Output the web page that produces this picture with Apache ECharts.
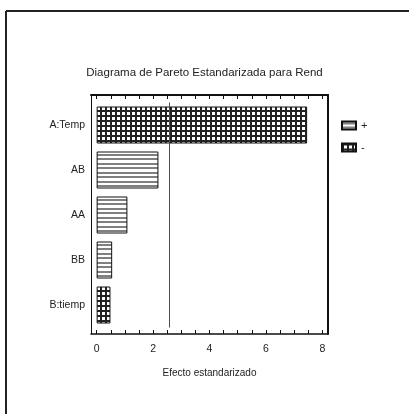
<!DOCTYPE html>
<html>
<head>
<meta charset="utf-8">
<script src="https://cdn.jsdelivr.net/npm/echarts@6/dist/echarts.min.js"></script>
<style>html,body{margin:0;padding:0;background:#fff;}#c{width:409px;height:414px;}</style>
</head>
<body>
<div id="c"></div>
<script>
// Data
var categories = ['A:Temp', 'AB', 'AA', 'BB', 'B:tiemp'];
var effects = [7.46, 2.19, 1.09, 0.55, 0.49];
var signs = ['-', '+', '+', '+', '-'];
var criticalValue = 2.57;
var xTickLabels = [0, 2, 4, 6, 8];
var xMinorTicks = [0, 0.5, 1, 1.5, 2, 2.5, 3, 3.5, 4, 4.5, 5, 5.5, 6, 6.5, 7, 7.5, 8];

var FONT = "'Liberation Sans', Arial, sans-serif";

function stripePattern() {
  var c = document.createElement('canvas');
  c.width = 4; c.height = 9;
  var g = c.getContext('2d');
  g.fillStyle = '#fff'; g.fillRect(0, 0, 4, 9);
  g.fillStyle = '#808080';
  g.fillRect(0, 1, 4, 2);
  g.fillRect(0, 5, 4, 2);
  return c;
}
function gridPattern() {
  var c = document.createElement('canvas');
  c.width = 5; c.height = 5;
  var g = c.getContext('2d');
  g.fillStyle = '#fff'; g.fillRect(0, 0, 5, 5);
  g.fillStyle = '#222';
  g.fillRect(0, 0, 2, 5);
  g.fillRect(0, 0, 5, 2);
  return c;
}

var plusData = effects.map(function (v, i) { return signs[i] === '+' ? v : '-'; });
var minusData = effects.map(function (v, i) { return signs[i] === '-' ? v : '-'; });

var chart = echarts.init(document.getElementById('c'), null, { renderer: 'canvas' });
var xMin = -0.2, xMax = 8.2;
chart.setOption({
  backgroundColor: '#fff',
  animation: false,
  textStyle: { fontFamily: FONT },
  title: {
    text: 'Diagrama de Pareto Estandarizada para Rend',
    left: 'center',
    top: 62,
    textStyle: { fontFamily: FONT, fontSize: 11.5, fontWeight: 'normal', color: '#222' }
  },
  graphic: [
    { type: 'line', shape: { x1: 6, y1: 11, x2: 409, y2: 11 }, style: { stroke: '#222', lineWidth: 2 }, silent: true },
    { type: 'line', shape: { x1: 6, y1: 11, x2: 6, y2: 414 }, style: { stroke: '#222', lineWidth: 2 }, silent: true }
  ],
  legend: {
    orient: 'vertical', left: 336, top: 115,
    itemWidth: 14, itemHeight: 8, itemGap: 11,
    icon: 'rect',
    data: ['+', '-'],
    textStyle: { fontFamily: FONT, fontSize: 11, color: '#222' }
  },
  grid: [
    { left: 91, right: 81, top: 95, bottom: 80 },
    { left: 91, right: 81, top: 102.5, bottom: 86.5 }
  ],
  xAxis: [
    {
      gridIndex: 0, type: 'value', min: xMin, max: xMax, position: 'bottom',
      axisLine: { show: true, onZero: false, lineStyle: { color: '#111', width: 1.5 } },
      axisTick: { show: true, inside: true, length: 4, customValues: xMinorTicks, lineStyle: { color: '#111' } },
      axisLabel: { show: true, customValues: xTickLabels, margin: 10, fontSize: 10.5, color: '#222', fontFamily: FONT },
      splitLine: { show: false },
      name: 'Efecto estandarizado', nameLocation: 'middle', nameGap: 34,
      nameTextStyle: { fontSize: 10, color: '#222', fontFamily: FONT }
    },
    {
      gridIndex: 0, type: 'value', min: xMin, max: xMax, position: 'top',
      axisLine: { show: true, onZero: false, lineStyle: { color: '#111', width: 2 } },
      axisTick: { show: true, inside: true, length: 4, customValues: xMinorTicks, lineStyle: { color: '#111' } },
      axisLabel: { show: false },
      splitLine: { show: false }
    },
    {
      gridIndex: 1, type: 'value', min: xMin, max: xMax,
      axisLine: { show: false }, axisTick: { show: false }, axisLabel: { show: false }, splitLine: { show: false }
    }
  ],
  yAxis: [
    {
      gridIndex: 0, type: 'value', min: 0, max: 1, position: 'left',
      axisLine: { show: true, onZero: false, lineStyle: { color: '#111', width: 1 } },
      axisTick: { show: false }, axisLabel: { show: false }, splitLine: { show: false }
    },
    {
      gridIndex: 0, type: 'value', min: 0, max: 1, position: 'right',
      axisLine: { show: true, onZero: false, lineStyle: { color: '#111', width: 2 } },
      axisTick: { show: false }, axisLabel: { show: false }, splitLine: { show: false }
    },
    {
      gridIndex: 1, type: 'category', data: categories, inverse: true,
      axisLine: { show: false }, axisTick: { show: false },
      axisLabel: { margin: 6, fontSize: 10.5, color: '#222', fontFamily: FONT },
      splitLine: { show: false }
    }
  ],
  series: [
    {
      name: '+', type: 'bar', xAxisIndex: 2, yAxisIndex: 2, data: plusData,
      barWidth: 37, barGap: '-100%',
      itemStyle: { color: { image: stripePattern(), repeat: 'repeat' }, borderColor: '#111', borderWidth: 1 },
      markLine: {
        silent: true, symbol: 'none', label: { show: false },
        lineStyle: { color: '#3a3ad6', width: 1, type: 'solid' },
        data: [{ xAxis: criticalValue }]
      }
    },
    {
      name: '-', type: 'bar', xAxisIndex: 2, yAxisIndex: 2, data: minusData,
      barWidth: 37, barGap: '-100%',
      itemStyle: { color: { image: gridPattern(), repeat: 'repeat' }, borderColor: '#111', borderWidth: 1 }
    }
  ]
});
</script>
</body>
</html>
